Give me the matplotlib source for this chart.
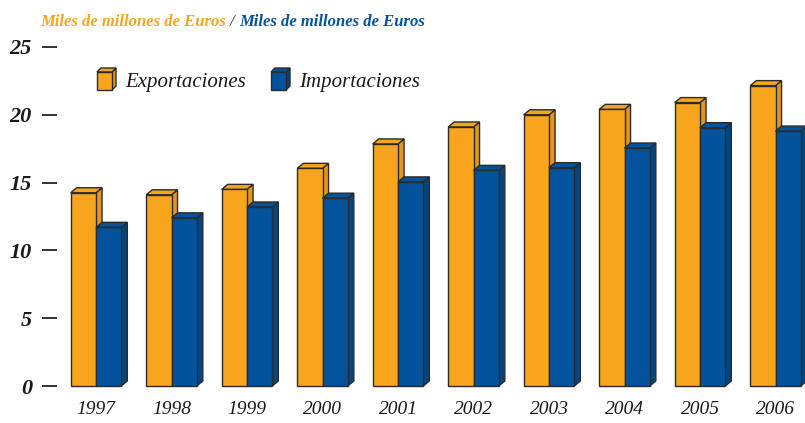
import matplotlib.pyplot as plt
from matplotlib.patches import Polygon
import numpy as np

# data (miles de millones de euros)
years = ['1997', '1998', '1999', '2000', '2001', '2002', '2003', '2004', '2005', '2006']
exportaciones = [14.25, 14.1, 14.5, 16.05, 17.85, 19.1, 20.0, 20.4, 20.9, 22.15]
importaciones = [11.7, 12.4, 13.2, 13.85, 15.05, 15.9, 16.1, 17.55, 19.05, 18.8]
yticks = [0, 5, 10, 15, 20, 25]

ORANGE = '#F6A51D'
ORANGE_SIDE = '#E6961A'
BLUE = '#02529C'
BLUE_SIDE = '#02457F'
EDGE = '#2b2b2b'
SERIF = 'Liberation Serif'

W, H = 805, 423
fig = plt.figure(figsize=(W / 100, H / 100), dpi=100)
# axes placed in pixel terms: left 57, right 805, y=0 at 386, y=25 at 47
ax = fig.add_axes([57 / W, 1 - 386 / H, 748 / W, (386 - 47) / H])

x = np.arange(len(years))
bw = 0.335   # bar width in category units
dx = 0.08    # depth to the right
dy = 0.37    # depth upwards (data units)


def box3d(ax, x0, w, y0, top, front, side, z, trans=None, ddx=dx, ddy=dy):
    kw = dict(edgecolor=EDGE, linewidth=1.0, zorder=z, clip_on=False)
    if trans is not None:
        kw['transform'] = trans
    ax.add_patch(Polygon([(x0 + w, y0), (x0 + w + ddx, y0 + ddy),
                          (x0 + w + ddx, top + ddy), (x0 + w, top)],
                         facecolor=side, **kw))
    ax.add_patch(Polygon([(x0, top), (x0 + ddx, top + ddy),
                          (x0 + w + ddx, top + ddy), (x0 + w, top)],
                         facecolor=front, **kw))
    ax.add_patch(Polygon([(x0, y0), (x0 + w, y0), (x0 + w, top), (x0, top)],
                         facecolor=front, **kw))


for i in range(len(years)):
    box3d(ax, x[i] - bw, bw, 0, exportaciones[i], ORANGE, ORANGE_SIDE, 2)
    box3d(ax, x[i], bw, 0, importaciones[i], BLUE, BLUE_SIDE, 3)

ax.set_xlim((57 - 96) / 75.5, (805 - 96) / 75.5)
ax.set_ylim(0, 25)
for s in ax.spines.values():
    s.set_visible(False)

ax.set_yticks(yticks)
ax.set_yticklabels([str(t) for t in yticks], fontfamily=SERIF, fontstyle='italic',
                   fontweight='bold', fontsize=16, color='#1a1a1a')
ax.tick_params(axis='y', direction='out', length=11, width=1.3, color='#222222', pad=7)
ax.set_xticks(x)
ax.set_xticklabels(years, fontfamily=SERIF, fontstyle='italic', fontsize=14, color='#1a1a1a')
ax.tick_params(axis='x', length=0, pad=11)

# title in two colours
tkw = dict(fontfamily=SERIF, fontstyle='italic', fontsize=12, va='bottom')
t1 = fig.text(40 / W, 1 - 30 / H, 'Miles de millones de Euros', color=ORANGE,
              fontweight='bold', **tkw)
t2 = ax.annotate('/', xy=(1, 0), xycoords=t1, xytext=(3, 0), textcoords='offset points',
                 color='#333333', annotation_clip=False, **tkw)
ax.annotate('Miles de millones de Euros', xy=(1, 0), xycoords=t2, xytext=(3, 0),
            textcoords='offset points', color=BLUE, fontweight='bold',
            annotation_clip=False, **tkw)

# legend with little boxes, placed in figure pixels
ft = fig.transFigure
for px, label, front, side in [(97, 'Exportaciones', ORANGE, ORANGE_SIDE),
                               (271, 'Importaciones', BLUE, BLUE_SIDE)]:
    box3d(ax, px / W, 15 / W, 1 - 90 / H, 1 - 72 / H, front, side, 5, trans=ft,
          ddx=4 / W, ddy=4 / H)
    fig.text((px + 28) / W, 1 - 82 / H, label, fontfamily=SERIF, fontstyle='italic',
             fontsize=15, va='center', color='#1a1a1a')

fig.savefig('out.png', dpi=100)
